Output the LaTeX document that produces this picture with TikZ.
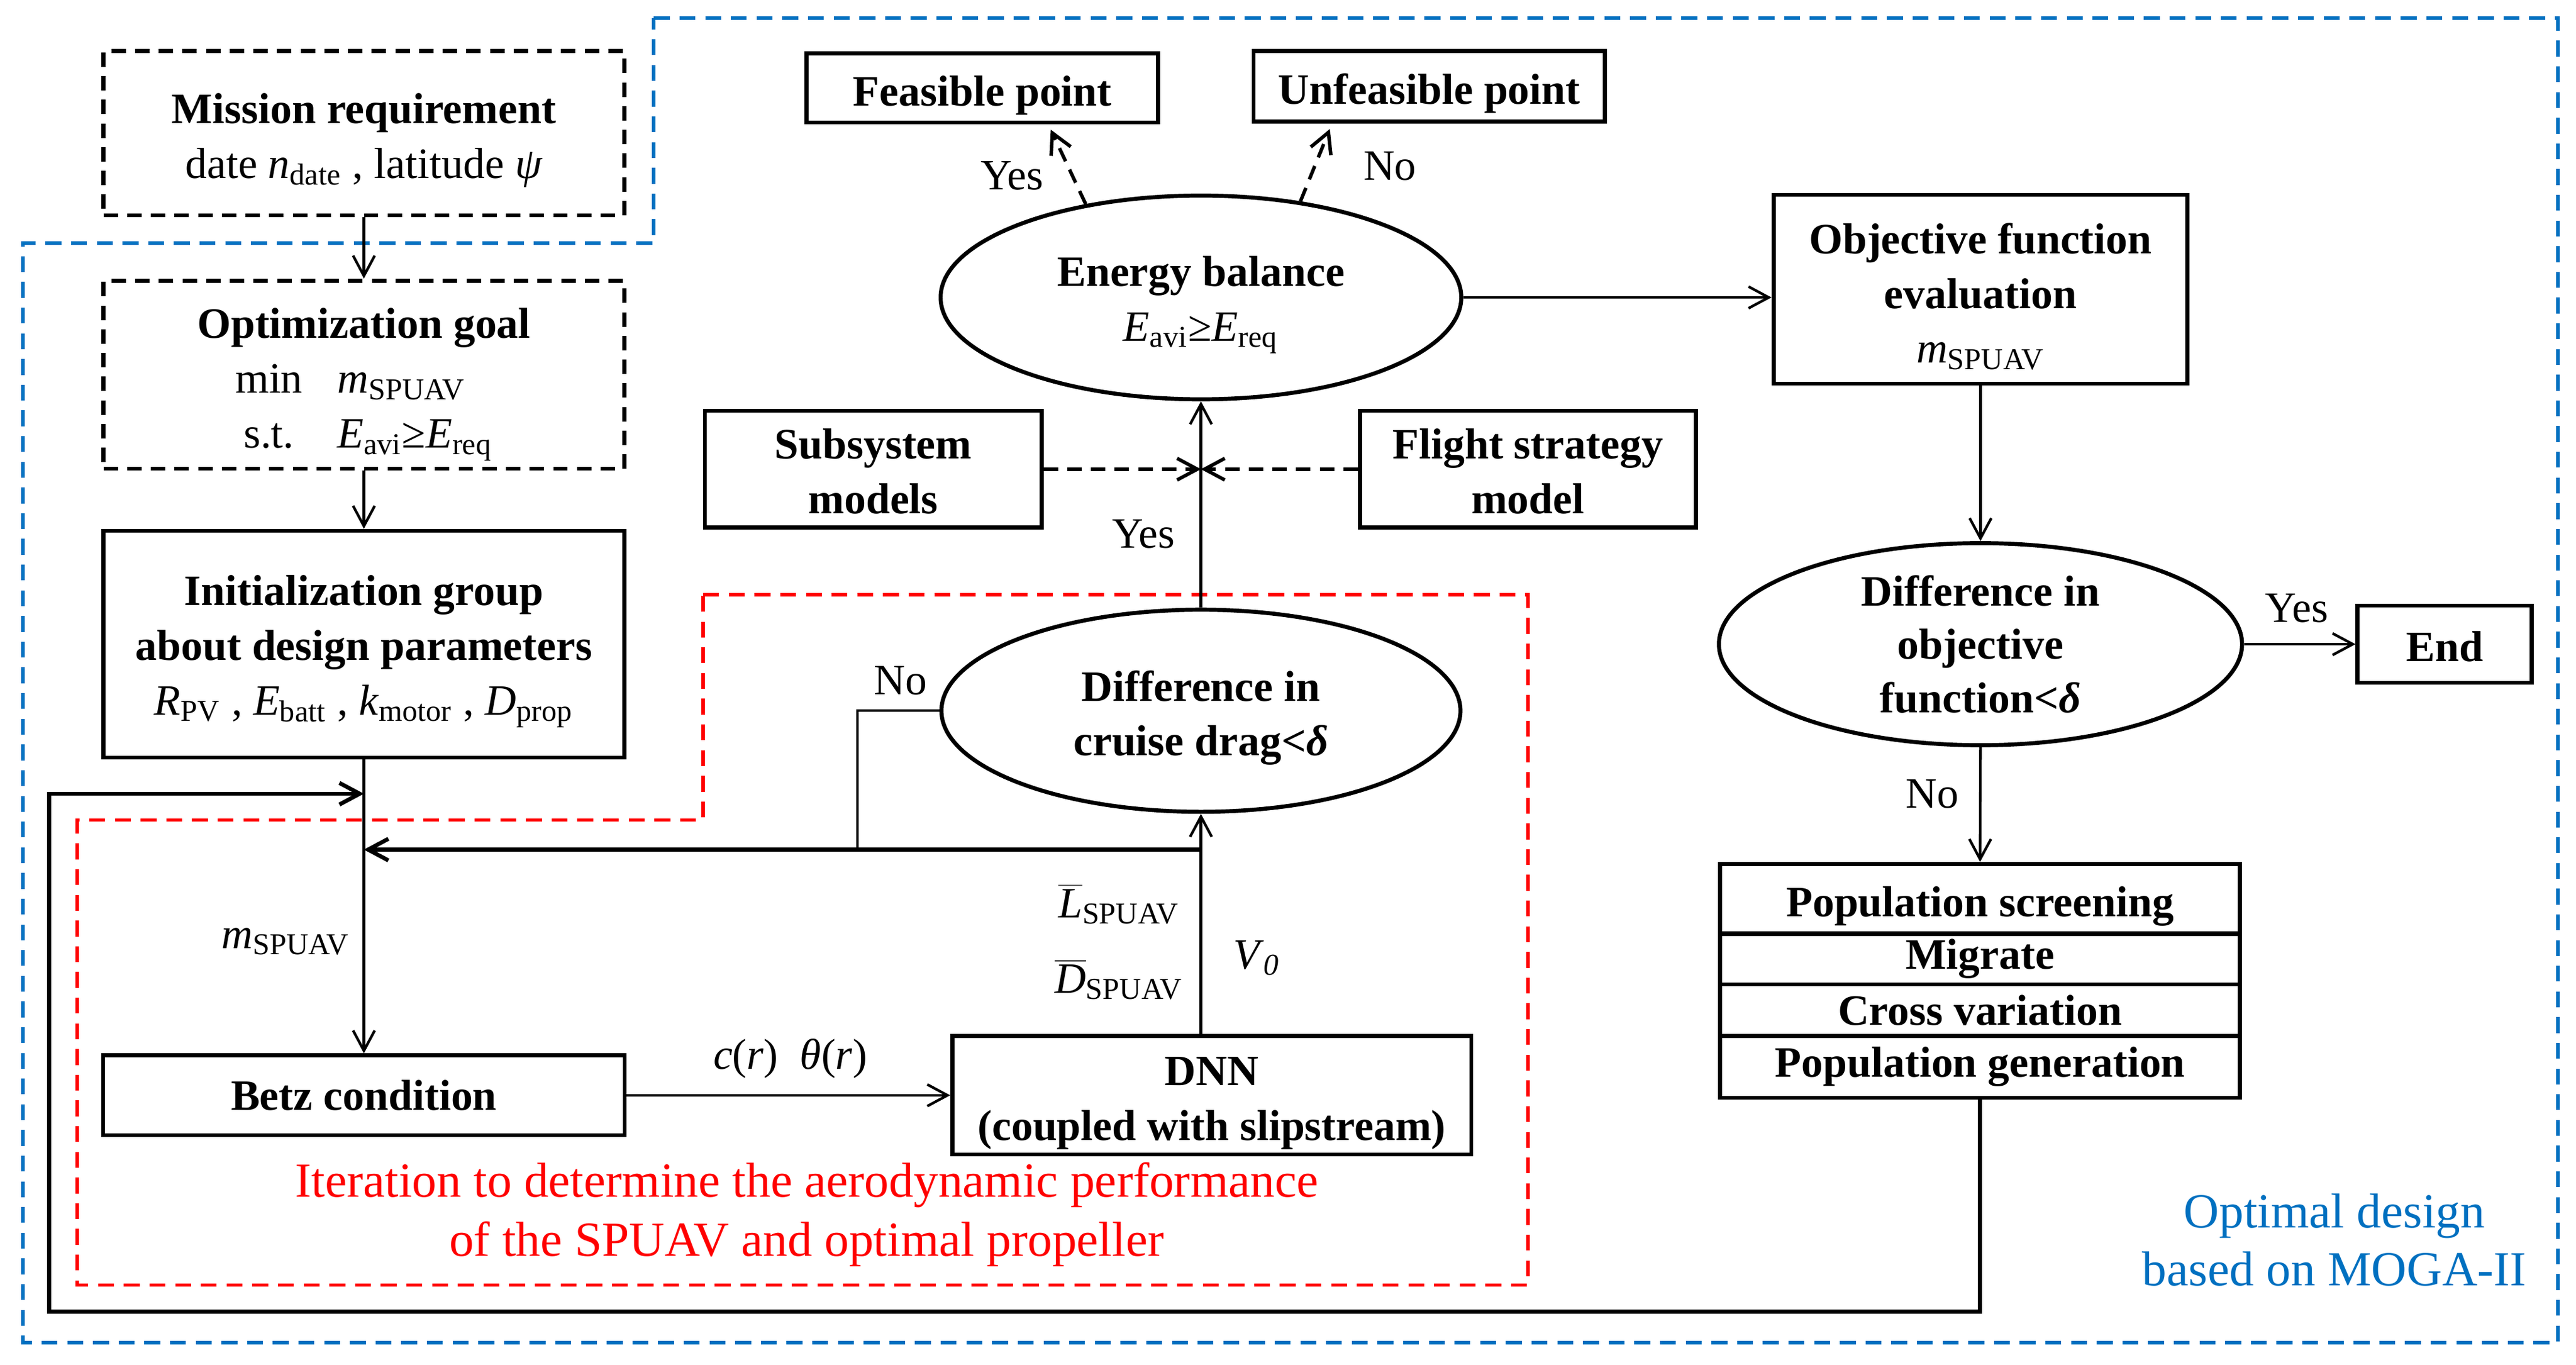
\documentclass[tikz,border=0pt]{standalone}
\usepackage{fontspec}
\setmainfont{Liberation Serif}
\usetikzlibrary{arrows.meta,shapes.geometric}
\definecolor{optblue}{RGB}{0,112,192}
\newcommand{\vsub}[2]{\textit{#1}\textsubscript{#2}}
\newcommand{\boxstrut}[1][15.5pt]{\rule{0pt}{#1}}
\tikzset{
	box/.style={draw, line width=1.4pt, align=center, inner sep=1pt},
	dbox/.style={box, dash pattern=on 5pt off 3.2pt},
	oval/.style={draw, ellipse, line width=1.4pt, align=center, inner sep=0pt},
	arr/.style={line width=0.9pt, -{Straight Barb[length=7pt,width=7.5pt]}},
	darr/.style={arr, line width=1.2pt, dash pattern=on 5pt off 3.2pt},
	lbl/.style={inner sep=0pt},
}

\begin{document}
\begin{tikzpicture}[x=0.02cm, y=-0.02cm, font=\fontsize{15}{19}\selectfont]
			%%%%% START %%%%%
			\useasboundingbox (0,0) rectangle (1568,830.6);
			
			% frames
			\draw[optblue, line width=1.2pt, dash pattern=on 5.5pt off 3.4pt] (398,11) -- (1557,11) -- (1557,817) -- (14,817) -- (14,148) -- (398,148) -- cycle;
			\draw[red, line width=1.2pt, dash pattern=on 5.5pt off 3.4pt] (428,362) -- (930,362) -- (930,782) -- (47,782) -- (47,499) -- (428,499) -- cycle;
			
			% left column
			\node[dbox, minimum width=6.34cm, minimum height=2cm] (mission) at (221.5,81) {\boxstrut\textbf{Mission requirement}\\ date \vsub{n}{date} , latitude \textit{ψ}};
			\node[dbox, minimum width=6.34cm, minimum height=2.29cm] (goal) at (221.5,228) {\boxstrut[18.5pt]\textbf{Optimization goal}\\ \begin{tabular}[t]{@{}c@{\hspace{0.8em}}l@{}} min & \vsub{m}{SPUAV}\\ s.t. & \vsub{E}{avi}≥\vsub{E}{req}\end{tabular}};
			\node[box, minimum width=6.34cm, minimum height=2.76cm] (init) at (221.5,392) {\boxstrut\textbf{Initialization group}\\ \textbf{about design parameters}\\ \vsub{R}{PV} , \vsub{E}{batt} , \vsub{k}{motor} , \vsub{D}{prop}};
			\node[box, minimum width=6.35cm, minimum height=0.97cm] (betz) at (221.5,666.5) {\textbf{Betz condition}};
			
			% middle column
			\node[box, minimum width=4.28cm, minimum height=0.84cm] (feasible) at (598,53.5) {\boxstrut\textbf{Feasible point}};
			\node[box, minimum width=4.28cm, minimum height=0.86cm] (unfeasible) at (870,52.5) {\boxstrut\textbf{Unfeasible point}};
			\node[oval, minimum width=6.34cm, minimum height=2.48cm] (energy) at (731,181) {\boxstrut\textbf{Energy balance}\\ \vsub{E}{avi}≥\vsub{E}{req}};
			\node[box, minimum width=4.1cm, minimum height=1.42cm] (subsys) at (531.5,285.5) {\boxstrut[12pt]\textbf{Subsystem}\\ \textbf{models}};
			\node[box, minimum width=4.09cm, minimum height=1.42cm] (flight) at (930,285.5) {\boxstrut[12pt]\textbf{Flight strategy}\\ \textbf{model}};
			\node[oval, minimum width=6.32cm, minimum height=2.46cm] (cruise) at (731,432.5) {\boxstrut\textbf{Difference in}\\ \textbf{cruise drag<\textit{δ}}};
			\node[box, minimum width=6.32cm, minimum height=1.44cm] (dnn) at (737.6,666.5) {\boxstrut\textbf{DNN}\\ \textbf{(coupled with slipstream)}};
			
			% right column
			\node[box, minimum width=5.04cm, minimum height=2.3cm] (objfun) at (1205.5,176) {\boxstrut\textbf{Objective function}\\ \textbf{evaluation}\\ \vsub{m}{SPUAV}};
			\node[oval, minimum width=6.37cm, minimum height=2.46cm, inner ysep=-4pt, font=\fontsize{15}{18.5}\selectfont] (objdiff) at (1205.5,392) {\textbf{Difference in}\\ \textbf{objective}\\ \textbf{function<\textit{δ}}};
			\node[box, minimum width=2.12cm, minimum height=0.94cm] (endbox) at (1488,392) {\boxstrut[12pt]\textbf{End}};
			\node[box, minimum width=6.33cm, minimum height=0.85cm] (pop1) at (1205.25,547) {\boxstrut\textbf{Population screening}};
			\node[box, minimum width=6.33cm, minimum height=0.62cm] (pop2) at (1205.25,583.5) {\textbf{Migrate}};
			\node[box, minimum width=6.33cm, minimum height=0.63cm] (pop3) at (1205.25,614.75) {\textbf{Cross variation}};
			\node[box, minimum width=6.33cm, minimum height=0.75cm] (pop4) at (1205.25,649.25) {\textbf{Population generation}};
			
			% labels
			\node[lbl] (yes1) at (616,107) {Yes};
			\node[lbl] (no1) at (846,101) {No};
			\node[lbl] (yes2) at (696,325) {Yes};
			\node[lbl] (no2) at (548,414) {No};
			\node[lbl] (mlab) at (174,573) {\vsub{m}{SPUAV}};
			\node[lbl] (crlab) at (481,644) {\textit{c}(\textit{r})\enspace\textit{θ}(\textit{r})};
			\node[lbl] (llab) at (681,550) {$\overline{\mbox{\textit{L}}}$\textsubscript{SPUAV}};
			\node[lbl] (dlab) at (681,596) {$\overline{\mbox{\textit{D}}}$\textsubscript{SPUAV}};
			\node[lbl] (vlab) at (765,583) {\textit{V}\textsubscript{\textit{0}}};
			\node[lbl] (yes3) at (1398,370) {Yes};
			\node[lbl] (no3) at (1176,483) {No};
			\node[lbl, align=center, text=red, font=\fontsize{17}{20.5}\selectfont] (iterlab) at (491,739) {Iteration to determine the aerodynamic performance\\ of the SPUAV and optimal propeller};
			\node[lbl, align=center, text=optblue, font=\fontsize{17}{20}\selectfont] (mogalab) at (1421,754.5) {Optimal design\\ based on MOGA-II};
			
			% connectors
			\coordinate (meet) at (cruise.north |- subsys.east);
			\coordinate (tap) at (731,517);
			\coordinate (nobend) at (522,517);
			\coordinate (joinL) at (init.south |- tap);
			\coordinate (loopR) at (pop4.south |- 0,798);
			\coordinate (loopL) at (30,798);
			\coordinate (loopT) at (30,483);
			\coordinate (joinT) at (init.south |- loopT);
			
			\draw[arr] (mission.south) -- (goal.north);
			\draw[arr] (goal.south) -- (init.north);
			\draw[arr] (init.south) -- (betz.north);
			\draw[arr] (betz.east) -- (dnn.west);
			\draw[arr] (cruise.south |- dnn.north) -- (cruise.south);
			\draw[arr] (cruise.north) -- (energy.south);
			\draw[darr] (subsys.east) -- (meet);
			\draw[darr] (flight.west) -- (meet);
			\draw[darr, shorten >=2pt] (energy.141) -- (feasible.-29);
			\draw[darr, shorten >=2pt] (energy.44) -- (unfeasible.-159);
			\draw[arr] (energy.east) -- (energy.east -| objfun.west);
			\draw[arr] (objfun.south) -- (objdiff.north);
			\draw[arr] (objdiff.east) -- (endbox.west);
			\draw[arr] (objdiff.south) -- (pop1.north);
			
			\draw[line width=0.9pt] (cruise.west) -| (nobend);
			\draw[arr, line width=1.4pt] (tap) -- (joinL);
			\draw[arr, line width=1.4pt] (pop4.south) -- (loopR) -- (loopL) -- (loopT) -- (joinT);
			
			%%%%% END %%%%%
\end{tikzpicture}
\end{document}
